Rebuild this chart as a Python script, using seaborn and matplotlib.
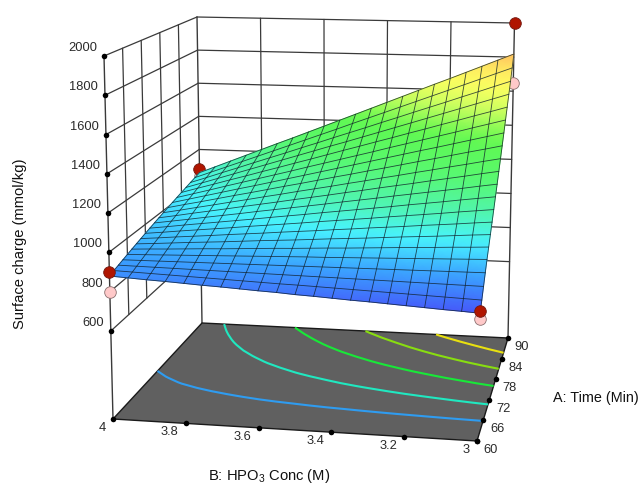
import numpy as np
import seaborn as sns
import matplotlib.pyplot as plt
from matplotlib.colors import LinearSegmentedColormap

# -------------------- Data --------------------
time_ticks = [60, 66, 72, 78, 84, 90]
conc_ticks = [4, 3.8, 3.6, 3.4, 3.2, 3]
conc_labels = ['4', '3.8', '3.6', '3.4', '3.2', '3']
charge_ticks = [600, 800, 1000, 1200, 1400, 1600, 1800, 2000]
floor_level = 152

time_grid = [60, 61.5, 63, 64.5, 66, 67.5, 69, 70.5, 72, 73.5, 75,
             76.5, 78, 79.5, 81, 82.5, 84, 85.5, 87, 88.5, 90]
conc_grid = [4, 3.95, 3.9, 3.85, 3.8, 3.75, 3.7, 3.65, 3.6, 3.55, 3.5,
             3.45, 3.4, 3.35, 3.3, 3.25, 3.2, 3.15, 3.1, 3.05, 3]

# one row per time, one column per concentration
charge = [
    [880, 875, 870, 866, 861, 856, 852, 847, 842, 838, 832, 828, 823, 818, 814, 809, 804, 799, 794, 790, 785],
    [889, 886, 883, 880, 877, 874, 871, 868, 865, 862, 860, 857, 854, 851, 848, 845, 842, 839, 836, 833, 830],
    [898, 897, 896, 895, 894, 893, 892, 891, 890, 889, 888, 887, 886, 885, 884, 883, 882, 881, 880, 879, 878],
    [907, 908, 909, 910, 911, 912, 913, 914, 915, 916, 917, 918, 919, 920, 921, 922, 923, 924, 925, 926, 927],
    [916, 919, 922, 925, 928, 931, 934, 937, 940, 943, 946, 948, 951, 954, 957, 960, 963, 966, 969, 972, 975],
    [925, 930, 934, 939, 944, 948, 953, 958, 963, 967, 972, 977, 981, 986, 991, 996, 1000, 1005, 1010, 1014, 1019],
    [934, 940, 947, 954, 960, 966, 973, 980, 986, 992, 999, 1006, 1012, 1018, 1025, 1032, 1038, 1044, 1051, 1058, 1064],
    [943, 951, 960, 968, 976, 985, 993, 1001, 1010, 1018, 1026, 1035, 1043, 1052, 1060, 1068, 1077, 1085, 1093, 1102, 1110],
    [952, 962, 973, 983, 993, 1003, 1014, 1024, 1034, 1044, 1055, 1065, 1075, 1085, 1096, 1106, 1116, 1126, 1137, 1147, 1157],
    [961, 973, 986, 998, 1010, 1022, 1034, 1047, 1059, 1071, 1084, 1096, 1108, 1120, 1132, 1145, 1157, 1169, 1182, 1194, 1206],
    [970, 984, 998, 1013, 1027, 1041, 1056, 1070, 1084, 1098, 1112, 1127, 1141, 1155, 1170, 1184, 1198, 1212, 1226, 1241, 1255],
    [979, 995, 1012, 1028, 1044, 1061, 1077, 1093, 1110, 1126, 1142, 1159, 1175, 1192, 1208, 1224, 1241, 1257, 1273, 1290, 1306],
    [988, 1006, 1025, 1043, 1062, 1080, 1099, 1117, 1136, 1154, 1172, 1191, 1209, 1228, 1246, 1265, 1283, 1302, 1320, 1339, 1357],
    [997, 1018, 1038, 1059, 1080, 1100, 1121, 1142, 1162, 1183, 1204, 1224, 1245, 1265, 1286, 1307, 1327, 1348, 1369, 1389, 1410],
    [1006, 1029, 1052, 1075, 1098, 1120, 1143, 1166, 1189, 1212, 1235, 1258, 1281, 1304, 1327, 1350, 1372, 1395, 1418, 1441, 1464],
    [1015, 1040, 1065, 1091, 1116, 1141, 1166, 1191, 1217, 1242, 1267, 1292, 1317, 1343, 1368, 1393, 1418, 1443, 1469, 1494, 1519],
    [1024, 1052, 1079, 1107, 1134, 1162, 1189, 1217, 1244, 1272, 1300, 1327, 1355, 1382, 1410, 1437, 1465, 1492, 1520, 1547, 1575],
    [1033, 1063, 1093, 1123, 1153, 1183, 1213, 1243, 1273, 1303, 1332, 1362, 1392, 1422, 1452, 1482, 1512, 1542, 1572, 1602, 1632],
    [1042, 1074, 1107, 1139, 1172, 1204, 1236, 1269, 1301, 1334, 1366, 1398, 1431, 1463, 1496, 1528, 1560, 1593, 1625, 1658, 1690],
    [1051, 1086, 1121, 1156, 1191, 1226, 1261, 1296, 1331, 1366, 1402, 1437, 1472, 1507, 1542, 1577, 1612, 1647, 1682, 1717, 1752],
    [1060, 1098, 1136, 1174, 1212, 1250, 1287, 1325, 1363, 1401, 1439, 1477, 1515, 1553, 1591, 1629, 1666, 1704, 1742, 1780, 1818],
]

contour_levels = [970, 1115, 1290, 1465, 1640]
contour_colors = ['#2f9cf0', '#20e8c0', '#18e838', '#88dd10', '#e8e010']

# design points above and below the surface
above_time = [60, 60, 90]
above_conc = [4, 3, 3]
above_charge = [900, 796, 2000]
behind_time = [90]
behind_conc = [4]
behind_charge = [1082]
below_time = [60, 60, 90, 90]
below_conc = [4, 3, 3, 4]
below_charge = [799, 756, 1648, 1040]

# -------------------- Box in the picture --------------------
# corners in order (60,4) (60,3) (90,3) (90,4), floor first then the 2000 level
floor_x = np.array([113, 477, 508, 202])
floor_y = np.array([419, 441, 338, 323])
top_x = np.array([104, 486, 514.5, 197])
top_y = np.array([56, 68, 23, 17])


def project(a, b, z):
    u = (np.asarray(a, float) - 60) / 30
    v = 4 - np.asarray(b, float)
    w = (np.asarray(z, float) - floor_level) / (2000 - floor_level)
    weights = [(1 - u) * (1 - v), (1 - u) * v, u * v, u * (1 - v)]
    low_x = sum(k * c for k, c in zip(weights, floor_x))
    low_y = sum(k * c for k, c in zip(weights, floor_y))
    high_x = sum(k * c for k, c in zip(weights, top_x))
    high_y = sum(k * c for k, c in zip(weights, top_y))
    return low_x + w * (high_x - low_x), low_y + w * (high_y - low_y)


# -------------------- Figure --------------------
sns.set_style('white')
plt.rcParams['font.family'] = ['Liberation Sans', 'DejaVu Sans']
plt.rcParams['mathtext.default'] = 'regular'

fig = plt.figure(figsize=(6.43, 4.86), dpi=100)
ax = fig.add_axes([0, 0, 1, 1])
ax.set_xlim(0, 643)
ax.set_ylim(486, 0)
ax.axis('off')


def line3d(a, b, z, color='#3a3a3a', lw=0.9, zorder=2):
    a, b, z = np.broadcast_arrays(a, b, z)
    px, py = project(a, b, z)
    sns.lineplot(x=px, y=py, sort=False, estimator=None, errorbar=None, color=color,
                 linewidth=lw, zorder=zorder, legend=False, ax=ax)


# -------------------- Walls --------------------
for c in charge_ticks:
    line3d([60, 90], 4, c)
    line3d(90, [4, 3], c)
for t in time_ticks[1:-1]:
    line3d(t, 4, [600, 2000])
for b in conc_ticks[1:-1]:
    line3d(90, b, [600, 2000])
line3d(60, 4, [floor_level, 2000], lw=1.0)
line3d(90, 4, [floor_level, 2000], lw=1.0)
line3d(90, 3, [floor_level, 2000], lw=1.0)

# -------------------- Floor --------------------
A, B = np.meshgrid(time_grid, conc_grid, indexing='ij')
Zs = np.array(charge, float)
fx, fy = project(A, B, floor_level)
ax.fill(floor_x, floor_y, facecolor='#606060', edgecolor='#1a1a1a', linewidth=1.0, zorder=3)
ax.contour(fx, fy, Zs, levels=contour_levels, colors=contour_colors, linewidths=1.5, zorder=4)

# -------------------- Ticks --------------------
tick_color = '#2a2a2a'
px, py = project(60, 4, np.array(charge_ticks))
sns.scatterplot(x=px, y=py, s=16, color='black', linewidth=0, zorder=4.5, legend=False, ax=ax)
for x, y, c in zip(px, py, charge_ticks):
    ax.text(x - 7, y - 8, str(c), ha='right', va='center', fontsize=9.3, color=tick_color)

px, py = project(60, np.array(conc_ticks), floor_level)
sns.scatterplot(x=px, y=py, s=16, color='black', linewidth=0, zorder=8, legend=False, ax=ax)
for x, y, lab in zip(px, py, conc_labels):
    ax.text(x - 7, y + 9, lab, ha='right', va='center', fontsize=9.3, color=tick_color)

px, py = project(np.array(time_ticks), 3, floor_level)
sns.scatterplot(x=px, y=py, s=16, color='black', linewidth=0, zorder=8, legend=False, ax=ax)
for x, y, t in zip(px, py, time_ticks):
    ax.text(x + 14, y + 9, str(t), ha='center', va='center', fontsize=9.3, color=tick_color)

# -------------------- Points under the surface --------------------
px, py = project(below_time, below_conc, below_charge)
sns.scatterplot(x=px, y=py, s=70, color='#ffc9c9', edgecolor='#8a7070', linewidth=0.6, zorder=5, legend=False, ax=ax)
px, py = project(behind_time, behind_conc, behind_charge)
sns.scatterplot(x=px, y=py, s=70, color='#b01500', edgecolor='#701810', linewidth=0.6, zorder=5, legend=False, ax=ax)

# -------------------- Surface --------------------
cmap = LinearSegmentedColormap.from_list('design', [
    (0.0, '#4658fa'), (0.12, '#3aa0ff'), (0.24, '#48f4ff'), (0.34, '#50f5b0'),
    (0.47, '#58f870'), (0.62, '#60f850'), (0.75, '#d0ff60'), (0.85, '#ffff60'),
    (0.93, '#ffe860'), (1.0, '#ffbf60')])
sx, sy = project(A, B, Zs)
ax.pcolormesh(sx, sy, Zs, cmap=cmap, vmin=785, vmax=1818, shading='gouraud', zorder=6)
for i in range(len(time_grid)):
    ax.plot(sx[i], sy[i], color='#10202a', lw=0.6, alpha=0.8, zorder=7)
for j in range(len(conc_grid)):
    ax.plot(sx[:, j], sy[:, j], color='#10202a', lw=0.6, alpha=0.8, zorder=7)

# -------------------- Points over the surface --------------------
px, py = project(above_time, above_conc, above_charge)
sns.scatterplot(x=px, y=py, s=70, color='#b01500', edgecolor='#701810', linewidth=0.6, zorder=9, legend=False, ax=ax)

# -------------------- Axis titles --------------------
ax.text(20, 244, 'Surface charge (mmol/kg)', rotation=90, ha='center', va='center', fontsize=10.6, color='#111111')
ax.text(553, 398, 'A: Time (Min)', ha='left', va='center', fontsize=10.4, color='#111111')
ax.text(269, 476, 'B: HPO$_3$ Conc (M)', ha='center', va='center', fontsize=10.6, color='#111111')

fig.savefig('out.png', dpi=100)
